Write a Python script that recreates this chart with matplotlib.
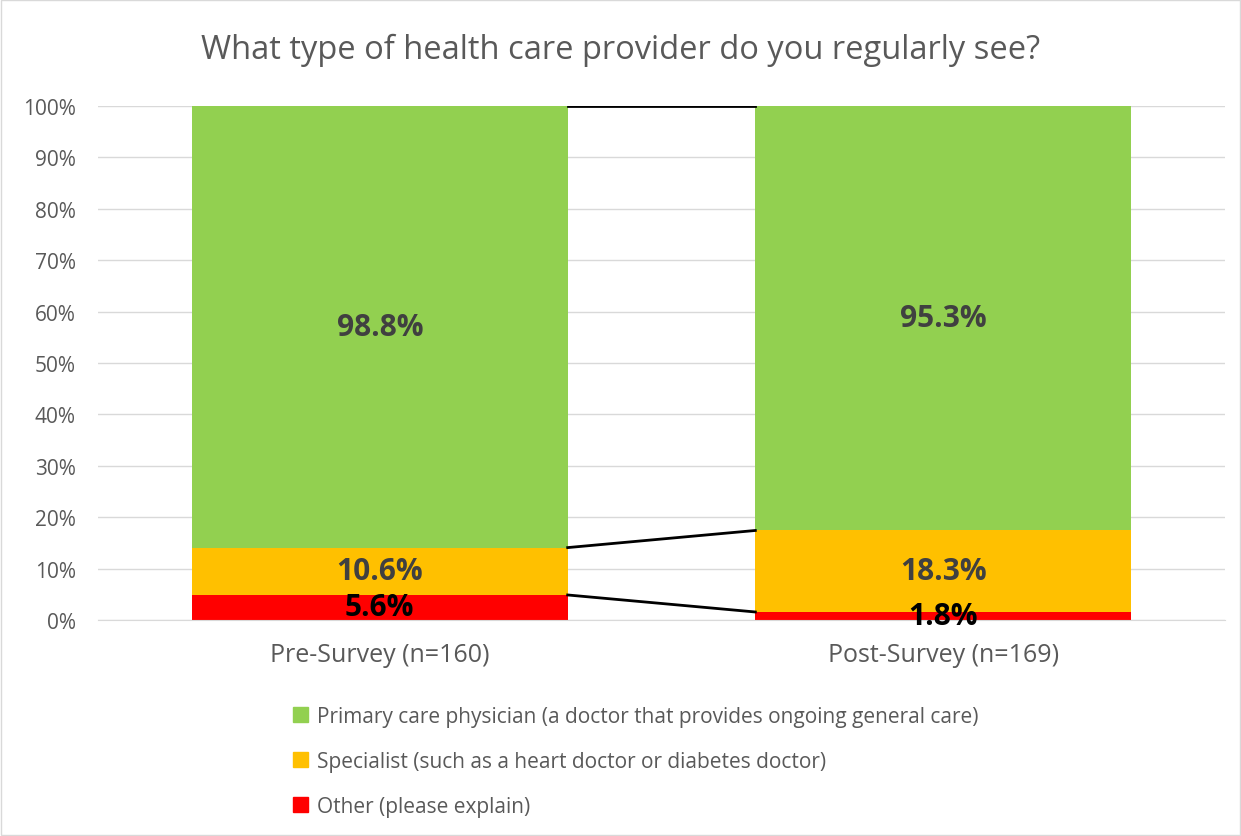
import numpy as np
import matplotlib
matplotlib.use('Agg')
import matplotlib.pyplot as plt
from matplotlib.patches import Rectangle

# --- dados ---
categorias = ['Pre-Survey (n=160)', 'Post-Survey (n=169)']
series = ['Other (please explain)',
          'Specialist (such as a heart doctor or diabetes doctor)',
          'Primary care physician (a doctor that provides ongoing general care)']
outro = [5.6, 1.8]
especialista = [10.6, 18.3]
primario = [98.8, 95.3]
cores = ['#FF0000', '#FFC000', '#92D050']
cores_rotulo = ['#000000', '#404040', '#404040']

plt.rcParams['font.family'] = ['Open Sans', 'DejaVu Sans']

valores = np.array([outro, especialista, primario])
totais = valores.sum(axis=0)
pct = valores / totais * 100

fig = plt.figure(figsize=(12.41, 8.37), dpi=100)
ax = fig.add_axes([98 / 1241, 1 - 621 / 837, 1127 / 1241, 514 / 837])

x = np.arange(len(categorias))
largura = 0.667
base = np.zeros(len(categorias))
for i in range(len(series)):
    ax.bar(x, pct[i], largura, bottom=base, color=cores[i], zorder=2)
    for j in range(len(categorias)):
        ax.text(x[j], base[j] + pct[i][j] / 2, f'{valores[i][j]:.1f}%',
                ha='center', va='center', fontsize=21.5, fontweight='bold',
                color=cores_rotulo[i], zorder=4)
    topo = base + pct[i]
    # linhas de serie entre as barras
    ax.plot([x[0] + largura / 2, x[1] - largura / 2], [topo[0], topo[1]],
            color='black', lw=2, zorder=3)
    base = topo

ax.set_xlim(-0.5, 1.5)
ax.set_ylim(0, 100)
ax.set_yticks(np.arange(0, 101, 10))
ax.set_yticklabels([f'{v}%' for v in range(0, 101, 10)])
ax.set_xticks(x)
ax.set_xticklabels(categorias)
ax.tick_params(axis='y', length=0, labelsize=15, colors='#595959', pad=16)
ax.tick_params(axis='x', length=0, labelsize=18, colors='#595959', pad=16)
ax.grid(axis='y', color='#D9D9D9', lw=1, zorder=0)
for lado in ['top', 'right', 'left']:
    ax.spines[lado].set_visible(False)
ax.spines['bottom'].set_color('#D9D9D9')

fig.text(0.5, 1 - 50 / 837, 'What type of health care provider do you regularly see?',
         ha='center', va='center', fontsize=23.5, color='#595959')

# legenda vertical
handles = [Rectangle((0, 0), 1, 1, color=cores[i]) for i in [2, 1, 0]]
fig.legend(handles, [series[i] for i in [2, 1, 0]], loc='upper left',
           bbox_to_anchor=(274 / 1241, 1 - 688 / 837), frameon=False,
           fontsize=15, labelcolor='#595959', handlelength=0.75,
           handleheight=0.75, handletextpad=0.4, labelspacing=1.15)

fig.patches.append(Rectangle((0.001, 0.001), 0.998, 0.998, transform=fig.transFigure,
                             fill=False, edgecolor='#D9D9D9', lw=1))

plt.savefig('out.png', dpi=100)
